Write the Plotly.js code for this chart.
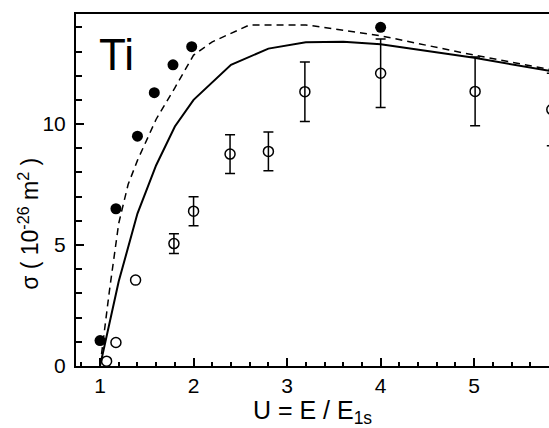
<!DOCTYPE html>
<html>
<head>
<meta charset="utf-8">
<script src="https://cdn.plot.ly/plotly-3.0.1.min.js"></script>
<style>
  body { margin: 0; background: #fff; }
  #chart { width: 549px; height: 428px; }
</style>
</head>
<body>
<div id="chart"></div>
<script>
// filled circles
var xFilled = [1.0, 1.17, 1.4, 1.58, 1.78, 1.98, 4.0];
var yFilled = [1.05, 6.5, 9.5, 11.3, 12.45, 13.2, 14.0];

// open circles, no error bars
var xOpen = [1.07, 1.17, 1.38];
var yOpen = [0.2, 0.97, 3.55];

// open circles with error bars
var xOpenErr = [1.79, 2.0, 2.39, 2.8, 3.19, 4.0, 5.01, 5.83];
var yOpenErr = [5.06, 6.4, 8.76, 8.87, 11.34, 12.1, 11.35, 10.6];
var errOpen = [0.41, 0.6, 0.8, 0.8, 1.23, 1.42, 1.42, 1.5];

// solid curve
var xSolid = [1.0, 1.2, 1.4, 1.6, 1.8, 2.0, 2.4, 2.8, 3.2, 3.6, 4.0, 5.0, 6.0];
var ySolid = [0, 3.5, 6.3, 8.3, 9.9, 11.0, 12.45, 13.12, 13.38, 13.4, 13.3, 12.74, 12.07];

// dashed curve
var xDash = [1.0, 1.1, 1.2, 1.3, 1.4, 1.6, 1.8, 2.0, 2.2, 2.4, 2.6, 3.2, 3.6, 4.0, 5.0, 6.0];
var yDash = [0, 3.1, 5.9, 7.5, 8.5, 10.2, 11.5, 12.85, 13.4, 13.75, 14.1, 14.1, 13.87, 13.65, 12.85, 12.12];

var openMarker = {symbol: 'circle-open', size: 10, color: '#000', line: {width: 1.5}};

var data = [
  {x: xDash, y: yDash, type: 'scatter', mode: 'lines',
   line: {color: '#000', width: 1.5, dash: '7px,5px'}},
  {x: xSolid, y: ySolid, type: 'scatter', mode: 'lines',
   line: {color: '#000', width: 2}},
  {x: xOpen, y: yOpen, type: 'scatter', mode: 'markers', marker: openMarker},
  {x: xOpenErr, y: yOpenErr, type: 'scatter', mode: 'markers', marker: openMarker,
   error_y: {type: 'data', array: errOpen, visible: true, color: '#000', thickness: 1.5, width: 5}},
  {x: xFilled, y: yFilled, type: 'scatter', mode: 'markers',
   marker: {symbol: 'circle', size: 11, color: '#000'}}
];

var fontFam = 'Liberation Sans, Arial, sans-serif';
var tickFont = {family: fontFam, size: 21, color: '#000'};

var layout = {
  width: 549, height: 428,
  margin: {l: 76, r: 0, t: 14, b: 62},
  showlegend: false,
  paper_bgcolor: '#fff', plot_bgcolor: '#fff',
  xaxis: {
    range: [0.743, 5.8], showgrid: false, zeroline: false,
    showline: true, linecolor: '#000', linewidth: 2, mirror: true,
    tickmode: 'linear', tick0: 0, dtick: 1,
    ticks: 'inside', ticklen: 8, tickwidth: 1.5, tickcolor: '#000',
    tickfont: tickFont,
    minor: {dtick: 0.2, ticks: 'inside', ticklen: 4, tickwidth: 1.5, tickcolor: '#000'},
    title: {text: 'U = E / E<sub>1s</sub>', font: {family: fontFam, size: 25, color: '#000'}, standoff: 11}
  },
  yaxis: {
    range: [0, 14.55], showgrid: false, zeroline: false,
    showline: true, linecolor: '#000', linewidth: 2,
    tickmode: 'linear', tick0: 0, dtick: 5,
    ticks: 'inside', ticklen: 8, tickwidth: 1.5, tickcolor: '#000',
    tickfont: tickFont, ticklabelstandoff: 4,
    minor: {dtick: 1, ticks: 'inside', ticklen: 6, tickwidth: 1.5, tickcolor: '#000'}
  },
  annotations: [
    {text: 'Ti', xref: 'paper', yref: 'paper', x: 0.045, y: 0.885,
     xanchor: 'left', yanchor: 'middle', showarrow: false,
     font: {family: fontFam, size: 44, color: '#000'}},
    {text: 'σ ( 10<sup>-26</sup> m<sup>2</sup> )', xref: 'paper', yref: 'paper',
     x: -0.1, y: 0.403, textangle: -90, showarrow: false,
     xanchor: 'center', yanchor: 'middle',
     font: {family: fontFam, size: 23, color: '#000'}}
  ]
};

Plotly.newPlot('chart', data, layout, {displayModeBar: false});
</script>
</body>
</html>
